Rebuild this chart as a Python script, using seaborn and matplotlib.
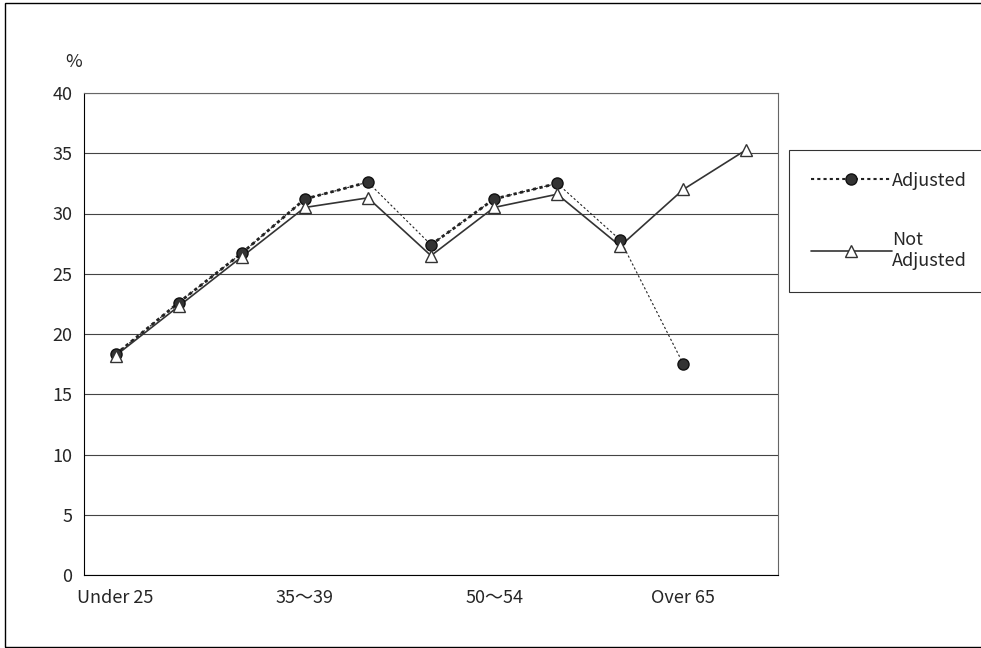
import numpy as np
import pandas as pd
import matplotlib
matplotlib.use("Agg")
import matplotlib.pyplot as plt
import seaborn as sns
from matplotlib.lines import Line2D

age_groups = ["Under 25", "25～29", "30～34", "35～39", "40～44", "45～49",
              "50～54", "55～59", "60～64", "Over 65", "Total"]
shown_labels = ["Under 25", "", "", "35～39", "", "", "50～54", "", "", "Over 65", ""]
adjusted = [18.3, 22.6, 26.7, 31.2, 32.6, 27.4, 31.2, 32.5, 27.8, 17.5, np.nan]
not_adjusted = [18.2, 22.3, 26.4, 30.5, 31.3, 26.5, 30.5, 31.6, 27.3, 32.0, 35.3]

sns.set_style("white")
plt.rcParams["font.family"] = ["Noto Sans CJK JP", "DejaVu Sans"]

df = pd.DataFrame({"pos": np.arange(len(age_groups)),
                   "Adjusted": adjusted, "Not Adjusted": not_adjusted})

fig = plt.figure(figsize=(9.81, 6.48), dpi=100)
ax = fig.add_axes([84 / 981, 1 - 575 / 648, (778 - 84) / 981, (575 - 93) / 648])

# thin dotted base line for adjusted, thicker where values rise
sns.lineplot(data=df, x="pos", y="Adjusted", ax=ax, color="#222222", lw=0.8,
             linestyle=(0, (2, 2)), sort=False)
for i in range(len(adjusted) - 1):
    if adjusted[i + 1] > adjusted[i]:
        seg = df.iloc[i:i + 2]
        sns.lineplot(data=seg, x="pos", y="Adjusted", ax=ax, color="#222222",
                     lw=2, linestyle=(0, (1.2, 1.2)), sort=False)
sns.lineplot(data=df, x="pos", y="Not Adjusted", ax=ax, color="#333333", lw=1.2, sort=False)
ax.plot(df["pos"], df["Adjusted"], "o", ms=8, mfc="#333333", mec="#111111", lw=0)
ax.plot(df["pos"], df["Not Adjusted"], "^", ms=9, mfc="white", mec="#333333", mew=1)

ax.set_xlim(-0.5, len(age_groups) - 0.5)
ax.set_ylim(0, 40)
ax.set_yticks(range(0, 41, 5))
ax.set_xticks(np.arange(len(age_groups)))
ax.set_xticklabels(shown_labels, fontsize=13)
ax.set_xticks(np.arange(-0.5, len(age_groups)), minor=True)
ax.tick_params(axis="x", which="major", length=0, pad=10)
ax.tick_params(axis="x", which="minor", length=6, direction="out", color="black")
ax.tick_params(axis="y", labelsize=13, length=5, direction="out", color="black")
ax.set_xlabel("")
ax.set_ylabel("")
ax.yaxis.grid(True, color="#444444", lw=0.8)
for s in ax.spines.values():
    s.set_color("#666666")
ax.spines["left"].set_color("black")
ax.spines["bottom"].set_color("black")
fig.text(65 / 981, 1 - 62 / 648, "%", fontsize=13, va="center", ha="left")

handles = [Line2D([], [], color="#222222", lw=1.5, linestyle=(0, (1.5, 1.5)), marker="o",
                  ms=8, mfc="#333333", mec="#111111"),
           Line2D([], [], color="#333333", lw=1.2, marker="^", ms=9, mfc="white", mec="#333333")]
leg = fig.legend(handles, ["Adjusted", "Not\nAdjusted"], loc="upper left",
                 bbox_to_anchor=(789 / 981, 1 - 150 / 648), fontsize=13,
                 frameon=True, fancybox=False, edgecolor="black", labelspacing=2.3,
                 handlelength=4.5, borderpad=1.2, handletextpad=0.0, borderaxespad=0)
leg.get_frame().set_linewidth(0.8)

fig.patches.append(plt.Rectangle((0.005, 0.001), 1.2, 0.995, transform=fig.transFigure,
                                 fill=False, edgecolor="black", lw=1))
fig.savefig("out.png", dpi=100)
